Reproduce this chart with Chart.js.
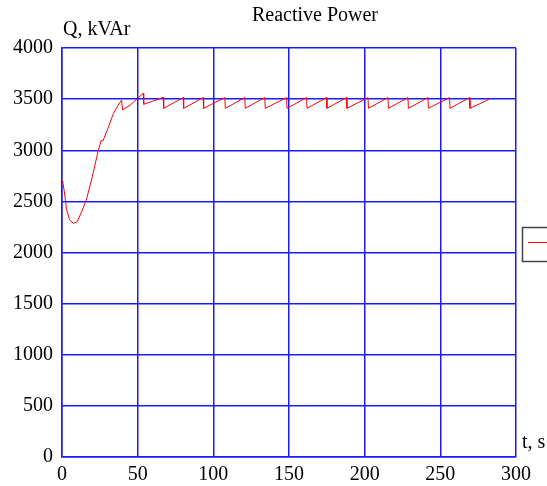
<!DOCTYPE html>
<html>
<head>
<meta charset="utf-8">
<script src="https://cdn.jsdelivr.net/npm/chart.js@4"></script>
<style>
  body { margin: 0; background: #fff; }
  #wrap { width: 547px; height: 486px; }
</style>
</head>
<body>
<div id="wrap"><canvas id="myChart" width="547" height="486"></canvas></div>
<script>
// time, s
const times = [0, 0.5, 1.5, 3, 5, 7.5, 10, 13, 16, 20, 24, 26, 27, 30, 34, 37, 39.4, 40, 45, 49.3, 53.7, 54, 60, 66.9, 67.2,
  80.1, 80.4, 93.3, 93.6, 107.6, 107.9, 120.8, 121.1, 134, 134.3, 148.4, 148.7, 161.6, 161.9, 174.8, 175.1,
  188, 188.3, 202.2, 202.5, 215.4, 215.7, 228.6, 228.9, 241.8, 242.1, 256.1, 256.4, 269.3, 269.6, 282.5]
// Q, kVAr
const power = [2700, 2690, 2600, 2420, 2320, 2285, 2300, 2400, 2510, 2740, 3000, 3100, 3090, 3200, 3360, 3440, 3490, 3395, 3440, 3498, 3557, 3450, 3480, 3518, 3410,
  3515, 3410, 3515, 3410, 3515, 3410, 3515, 3410, 3515, 3410, 3515, 3410, 3515, 3410, 3515, 3410,
  3515, 3410, 3515, 3410, 3515, 3410, 3515, 3410, 3515, 3410, 3515, 3410, 3515, 3410, 3500]

const xTicks = [0, 50, 100, 150, 200, 250, 300]
const yTicks = [0, 500, 1000, 1500, 2000, 2500, 3000, 3500, 4000]

const points = times.map((t, i) => ({x: t, y: power[i]}))

const blue = '#1a1aff'
const font = {family: '"Liberation Serif", "DejaVu Serif", serif', size: 20, lineHeight: 1}

// title, axis names and the little legend box
const extras = {
  id: 'extras',
  afterDraw(chart) {
    const c = chart.ctx
    const a = chart.chartArea
    c.save()
    c.fillStyle = '#000'
    c.font = '20px "Liberation Serif", serif'
    c.textBaseline = 'alphabetic'
    c.textAlign = 'center'
    c.fillText('Reactive Power', 315, 21)
    c.textAlign = 'left'
    c.fillText('Q, kVAr', 63, 35)
    c.fillText('t, s', a.right + 6, a.bottom - 9)
    // legend box
    c.strokeStyle = '#444'
    c.lineWidth = 1.5
    c.strokeRect(522.5, 227.5, 40, 34)
    c.strokeStyle = 'red'
    c.lineWidth = 1
    c.beginPath()
    c.moveTo(528, 242.5)
    c.lineTo(550, 242.5)
    c.stroke()
    c.restore()
  }
}

const config = {
  type: 'scatter',
  data: {
    datasets: [{
      data: points,
      showLine: true,
      borderColor: 'red',
      borderWidth: 1,
      pointRadius: 0,
      tension: 0,
      fill: false,
    }]
  },
  options: {
    responsive: false,
    animation: false,
    events: [],
    layout: {padding: {top: 48, right: 31, left: 0, bottom: 0}},
    plugins: {
      legend: {display: false},
      tooltip: {enabled: false},
    },
    scales: {
      x: {
        type: 'linear',
        min: 0,
        max: 300,
        afterBuildTicks: (s) => { s.ticks = xTicks.map(v => ({value: v})) },
        afterFit: (s) => { s.height = 29 },
        grid: {color: blue, lineWidth: 1.5, drawTicks: false},
        border: {color: blue, width: 1.5},
        ticks: {color: '#000', font, padding: 8, maxRotation: 0, callback: (v) => String(v)},
      },
      y: {
        min: 0,
        max: 4000,
        afterBuildTicks: (s) => { s.ticks = yTicks.map(v => ({value: v})) },
        afterFit: (s) => { s.width = 62 },
        grid: {color: blue, lineWidth: 1.5, drawTicks: false},
        border: {color: blue, width: 1.5},
        ticks: {color: '#000', font, padding: 9, callback: (v) => String(v)},
      }
    }
  },
  plugins: [extras]
}

const myChart = new Chart(document.getElementById('myChart').getContext('2d'), config)
</script>
</body>
</html>
